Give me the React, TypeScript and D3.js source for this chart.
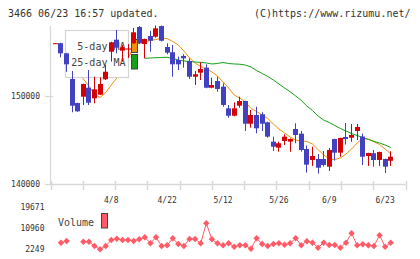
import React, { useEffect, useRef } from "react";
import * as d3 from "d3";

// daily candles, oldest first
const opens = [
  155950, 156000, 154850, 151930, 149200, 149920, 150940, 149740, 150150, 151900,
  155030, 156400, 155150, 155280, 155990, 157840, 155910, 156820, 156740, 157950,
  155570, 154970, 154090, 154550, 153980, 152190, 152650, 153220, 150940, 151700,
  151060, 148600, 147760, 148900, 149430, 146850, 147840, 147920, 147010, 144810,
  144130, 144890, 144810, 146250, 145720, 143980, 142730, 142840, 142840, 141970,
  145110, 143560, 145340, 145260, 146020, 145400, 143180, 143500, 142730, 142840,
  142640,
];
const highs = [
  156000, 156050, 154900, 152840, 149250, 151400, 152950, 152190, 152120, 153520,
  156170, 157500, 155800, 155900, 157730, 157950, 156520, 157390, 158010, 158010,
  155990, 155800, 154470, 154740, 154280, 152840, 153830, 153600, 152080, 152190,
  151440, 148980, 149280, 149920, 149450, 148410, 148780, 148150, 147080, 145380,
  144810, 145650, 145190, 146900, 146020, 144370, 144240, 143390, 143750, 144090,
  145150, 145260, 146930, 146820, 146820, 145720, 143550, 143860, 143680, 142880,
  143720,
];
const lows = [
  155950, 154400, 152750, 148150, 148200, 148980, 148980, 149170, 150100, 151820,
  153900, 154850, 153900, 154320, 155950, 155900, 154280, 155030, 156620, 156200,
  154740, 152190, 152950, 153220, 151930, 151250, 151820, 150880, 150880, 150490,
  148780, 147530, 147700, 148670, 146020, 146400, 145760, 146020, 145260, 143750,
  143670, 144430, 143670, 144630, 143670, 141300, 142050, 141190, 141970, 141480,
  142670, 143100, 144490, 144810, 145000, 142160, 142050, 141970, 142050, 141250,
  142050,
];
const closes = [
  156000, 154850, 153600, 148900, 148260, 151360, 149240, 150760, 151360, 152760,
  156100, 155490, 155490, 155400, 157240, 155990, 156480, 156280, 157690, 156280,
  154920, 153600, 153600, 154280, 152190, 152470, 153070, 150940, 151250, 150800,
  148980, 147760, 148600, 149430, 146850, 147840, 146330, 146850, 145380, 144240,
  144630, 145380, 145110, 145570, 143860, 142200, 143180, 141850, 142160, 143860,
  143560, 145230, 145110, 145570, 146480, 143100, 143520, 142730, 143640, 141970,
  143100,
];
const volumes: (number | null)[] = [
  null, 4970, 5670, null, null, 5380, 5380, 3610, 2249, 3610,
  6080, 6620, 6080, 6080, 5670, 6370, 7190, 4720, 7190, 3610,
  3900, 6780, 4430, 3610, 6490, 6490, 4720, 12960, 6370, 4720,
  3900, 4720, 3320, 3900, 3900, 2500, 6780, 4430, 3610, 4430,
  4720, 4140, 4720, 6780, 3900, 5540, 4970, 2910, 4970, 4020,
  4020, 2910, 4970, 8840, 3900, 4310, 3900, 3610, 8020, 3320,
  4970,
];
const ma5: (number | null)[] = [
  null, null, null, null, 152730, 151930, 151140, 150170, 149830, 150400,
  151250, 152050, 153180, 154320, 155460, 156020, 156140, 156310, 156420, 156560,
  156530, 156190, 155800, 155110, 154320, 153750, 153350, 153070, 152730, 152270,
  151590, 150910, 150110, 149770, 149320, 148580, 148240, 147840, 147440, 146820,
  146250, 145800, 145340, 145000, 144890, 144830, 144550, 143920, 143300, 142840,
  142780, 142960, 143410, 143980, 144660, 145170, 145110, 144810, 144490, 143980,
  143410,
];
const ma25: (number | null)[] = [
  null, null, null, null, null, null, null, null, null, null,
  null, null, null, null, null, null, 154280, 154320, 154350, 154380,
  154400, 154260, 154090, 153980, 153920, 153860, 153830, 153750, 153640, 153690,
  153810, 153690, 153640, 153610, 153520, 153300, 152900, 152560, 152220, 151820,
  151360, 150910, 150490, 150000, 149490, 148860, 148350, 147730, 147270, 146990,
  146650, 146310, 146020, 145740, 145510, 145280, 145060, 144850, 144660, 144430,
  144150,
];

const dateLabels = ["4/8", "4/22", "5/12", "5/26", "6/9", "6/23"];
const dateLabelIndex = [10, 20, 30, 40, 49, 59];
const priceTicks = [150000, 140000];
const volumeTicks = [19671, 10960, 2249];

const App = () => {
  const svgRef = useRef<SVGSVGElement>(null);

  useEffect(() => {
    const svg = d3.select(svgRef.current);
    svg.selectAll("*").remove();

    const mono = "'DejaVu Sans Mono', monospace";
    const up = "#d50000";
    const down = "#4141c1";
    const orange = "#f0900a";
    const green = "#16a016";
    const volColor = "#ff5a66";
    const axisColor = "#d8d8d8";
    const textColor = "#333";

    const x = d3.scaleLinear().domain([0, opens.length - 1]).range([55.4, 390.7]);
    const y = d3.scaleLinear().domain([140000, 150000]).range([184, 96]);
    const yv = d3.scaleLinear().domain([2249, 19671]).range([249.3, 207]);
    const left = 50.5, right = 405.5, bottom = 184.5;

    // header
    svg.append("text").attr("x", 8).attr("y", 16.5).attr("font-family", mono).attr("font-size", 10)
      .attr("fill", textColor).text("3466 06/23 16:57 updated.");
    svg.append("text").attr("x", 410.5).attr("y", 16.5).attr("text-anchor", "end").attr("font-family", mono)
      .attr("font-size", 10).attr("fill", textColor).text("(C)https://www.rizumu.net/");

    // axes
    svg.append("line").attr("x1", left).attr("x2", left).attr("y1", 26).attr("y2", bottom)
      .attr("stroke", axisColor).attr("stroke-width", 1.2);
    svg.append("line").attr("x1", left).attr("x2", right).attr("y1", bottom).attr("y2", bottom)
      .attr("stroke", axisColor).attr("stroke-width", 1.5);
    const tickX = d3.range(12).map((k) => left + (k * (right - left)) / 11);
    svg.selectAll(".xtick").data(tickX).enter().append("line")
      .attr("x1", (d) => Math.round(d) + 0.5).attr("x2", (d) => Math.round(d) + 0.5)
      .attr("y1", 181).attr("y2", 190).attr("stroke", axisColor).attr("stroke-width", 1.5);
    svg.selectAll(".ytick").data(priceTicks).enter().append("line")
      .attr("x1", 45).attr("x2", 53).attr("y1", (d) => Math.round(y(d)) + 0.5).attr("y2", (d) => Math.round(y(d)) + 0.5)
      .attr("stroke", axisColor).attr("stroke-width", 1.2);
    svg.selectAll(".ylabel").data(priceTicks).enter().append("text")
      .attr("x", 40).attr("y", (d) => y(d) + 3).attr("text-anchor", "end")
      .attr("font-family", mono).attr("font-size", 8).attr("fill", textColor).text((d) => d);
    svg.selectAll(".xlabel").data(dateLabels).enter().append("text")
      .attr("x", (d, i) => x(dateLabelIndex[i])).attr("y", 203).attr("text-anchor", "middle")
      .attr("font-family", mono).attr("font-size", 8).attr("fill", textColor).text((d) => d);

    // moving averages
    const maLine = d3.line<number | null>()
      .defined((d) => d != null)
      .x((d, i) => x(i))
      .y((d) => y(d as number));
    svg.append("path").attr("d", maLine(ma5)).attr("fill", "none").attr("stroke", orange).attr("stroke-width", 1);
    svg.append("path").attr("d", maLine(ma25)).attr("fill", "none").attr("stroke", green).attr("stroke-width", 1);

    // legend
    svg.append("rect").attr("x", 65.5).attr("y", 30.5).attr("width", 63).attr("height", 47)
      .attr("fill", "#fff").attr("stroke", "#d4d4d4").attr("stroke-width", 1.2);
    svg.append("text").attr("x", 125.5).attr("y", 49.5).attr("text-anchor", "end").attr("font-family", mono)
      .attr("font-size", 10).attr("fill", "#444").text("5-day MA");
    svg.append("text").attr("x", 125.5).attr("y", 66).attr("text-anchor", "end").attr("font-family", mono)
      .attr("font-size", 10).attr("fill", "#444").text("25-day MA");
    svg.append("rect").attr("x", 131.5).attr("y", 39.5).attr("width", 6).attr("height", 13)
      .attr("fill", orange).attr("stroke", "#444");
    svg.append("rect").attr("x", 131.5).attr("y", 54.5).attr("width", 6).attr("height", 14.5)
      .attr("fill", green).attr("stroke", "#444");

    // candles
    const idx = d3.range(opens.length);
    const g = svg.append("g");
    idx.forEach((i) => {
      const color = closes[i] >= opens[i] ? up : down;
      const bx = Math.round(x(i) - 2.5);
      g.append("line").attr("x1", bx + 2.5).attr("x2", bx + 2.5)
        .attr("y1", y(highs[i])).attr("y2", y(lows[i])).attr("stroke", color).attr("stroke-width", 1);
      const top = y(Math.max(opens[i], closes[i]));
      const bot = y(Math.min(opens[i], closes[i]));
      g.append("rect").attr("x", bx).attr("y", top).attr("width", 5)
        .attr("height", Math.max(1, bot - top)).attr("fill", color);
    });

    // volume
    const volLine = d3.line<number | null>()
      .defined((d) => d != null)
      .x((d, i) => x(i))
      .y((d) => yv(d as number));
    svg.append("path").attr("d", volLine(volumes)).attr("fill", "none").attr("stroke", volColor).attr("stroke-width", 1);
    svg.selectAll(".vdot").data(idx.filter((i) => volumes[i] != null)).enter().append("path")
      .attr("d", (i) => {
        const cx = x(i), cy = yv(volumes[i] as number), r = 3.2;
        return `M${cx},${cy - r}L${cx + r},${cy}L${cx},${cy + r}L${cx - r},${cy}Z`;
      })
      .attr("fill", volColor);
    svg.selectAll(".vlabel").data(volumeTicks).enter().append("text")
      .attr("x", 44.5).attr("y", (d) => yv(d) + 3).attr("text-anchor", "end")
      .attr("font-family", mono).attr("font-size", 8).attr("fill", textColor).text((d) => d);
    svg.append("text").attr("x", 58).attr("y", 226).attr("font-family", mono).attr("font-size", 10)
      .attr("fill", "#444").text("Volume");
    svg.append("rect").attr("x", 101.5).attr("y", 213.5).attr("width", 6).attr("height", 14.5)
      .attr("fill", volColor).attr("stroke", "#444");
  }, []);

  return <svg ref={svgRef} width={420} height={259} style={{ position: "absolute", left: 0, top: 0 }}></svg>;
};

export default App;
